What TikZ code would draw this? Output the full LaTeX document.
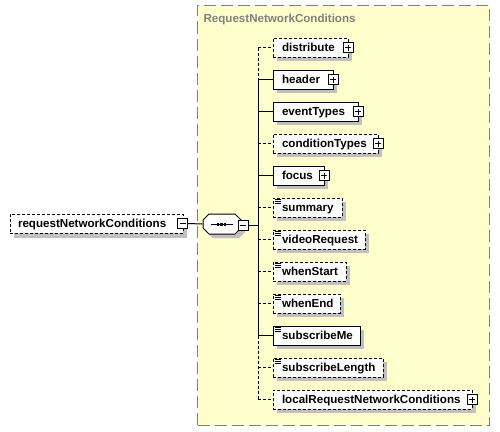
\documentclass[tikz,border=0pt]{standalone}
\usepackage{fontspec}
\setmainfont{Liberation Sans}
\definecolor{yel}{RGB}{255,255,204}
\definecolor{shgray}{RGB}{192,192,192}
\definecolor{ttl}{RGB}{128,128,128}
\newcommand{\xelem}[5]{% name, yc, right x, border style, label
  \fill[shgray] (277,{#2-5.5}) rectangle ({#3+4},{#2+13.5});
  \node[elbox,#4,minimum width={#3-273}] (#1) at ({(273+#3)/2},#2) {};
  \node[lbl,anchor=base west] (#1-t) at ([xshift=9pt,yshift=-4pt]#1.west) {#5};
  \coordinate (s-#1) at (258,#2);
  \draw[conn,#4] (s-#1) -- (#1.west);
}
\newcommand{\xplus}[1]{%
  \node[pmbox] (#1-p) at ([xshift=-0.5pt]#1.east) {};
  \draw[line width=1pt] ([xshift=-3pt]#1-p.center) -- ([xshift=3pt]#1-p.center);
  \draw[line width=1pt] ([yshift=-3pt]#1-p.center) -- ([yshift=3pt]#1-p.center);
}
\newcommand{\xminus}[1]{%
  \draw[line width=1pt] ([xshift=-3pt]#1.center) -- ([xshift=3pt]#1.center);
}
\newcommand{\xicon}[1]{%
  \foreach \k in {2,4,6}
    \draw[line width=0.7pt] ([xshift=2pt,yshift=-\k pt]#1.north west) -- ++(6,0);
}
\begin{document}
\begin{tikzpicture}[x=1pt,y=-1pt,line width=1pt,
  elbox/.style={draw=black,fill=white,line width=1pt,inner sep=0pt,minimum height=19pt},
  opt/.style={dash pattern=on 3pt off 2pt},
  req/.style={solid},
  lbl/.style={font=\bfseries\fontsize{11.6}{13}\selectfont,inner sep=0pt},
  pmbox/.style={draw=black,fill=white,line width=1pt,minimum size=10pt,inner sep=0pt},
  conn/.style={draw=black,line width=1pt},
]
\useasboundingbox (0,0) rectangle (500,431);
% complex type container
\node[draw=ttl,fill=yel,dash pattern=on 12pt off 5pt,line width=1pt,inner sep=0pt,
  minimum width=292pt,minimum height=420pt,anchor=north west] (ctype) at (197,5) {};
\node[lbl,text=ttl,anchor=base west] (ctype-t) at (203,22) {RequestNetworkConditions};

% root element
\fill[shgray] (14,218) rectangle (187,237.5);
\node[elbox,opt,minimum width=173pt] (rnc) at (96.5,223.5) {};
\node[lbl,anchor=base west] (rnc-t) at ([xshift=8pt,yshift=-4pt]rnc.west) {requestNetworkConditions};
\node[pmbox] (rnc-m) at (182.5,223.5) {};
\xminus{rnc-m}

% sequence compositor
\node[minimum width=38pt,minimum height=20pt,inner sep=0pt] (seq) at (222,224) {};
\fill[shgray] (213,218) -- (239,218) -- (245,224) -- (245,232) -- (239,238) -- (213,238) -- (207,232) -- (207,224) -- cycle;
\draw[fill=white] (209,214) -- (235,214) -- (241,220) -- (241,228) -- (235,234) -- (209,234) -- (203,228) -- (203,220) -- cycle;
\draw (211,224) -- (233,224);
\foreach \dx in {218,221.5,225}
  \fill ({\dx-1.25},222.5) rectangle ({\dx+1.25},225.5);
\node[pmbox] (seq-m) at (243,225) {};
\xminus{seq-m}
\draw[conn] (rnc-m.east) -- (seq.west);
\coordinate (junc) at (258,225);
\draw[conn] (seq-m.east) -- (junc);

% children
\xelem{distribute}{47.5}{348}{opt}{distribute}
\xplus{distribute}
\xelem{header}{79.5}{333}{req}{header}
\xplus{header}
\xelem{eventTypes}{111.5}{358}{req}{eventTypes}
\xplus{eventTypes}
\xelem{conditionTypes}{143.5}{378}{opt}{conditionTypes}
\xplus{conditionTypes}
\xelem{focus}{175.5}{324}{req}{focus}
\xplus{focus}
\xelem{summary}{207.5}{342}{opt}{summary}
\xicon{summary}
\xelem{videoRequest}{239.5}{365}{opt}{videoRequest}
\xicon{videoRequest}
\xelem{whenStart}{271.5}{346}{opt}{whenStart}
\xicon{whenStart}
\xelem{whenEnd}{303.5}{340}{opt}{whenEnd}
\xicon{whenEnd}
\xelem{subscribeMe}{335.5}{360}{req}{subscribeMe}
\xicon{subscribeMe}
\xelem{subscribeLength}{367.5}{383}{opt}{subscribeLength}
\xicon{subscribeLength}
\xelem{local}{399.5}{472}{opt}{localRequestNetworkConditions}
\xplus{local}

% spine
\draw[conn,opt] (s-distribute) -- (s-header);
\draw[conn] (s-header) -- (s-subscribeMe);
\draw[conn,opt] (s-subscribeMe) -- (s-local);
\end{tikzpicture}
\end{document}
